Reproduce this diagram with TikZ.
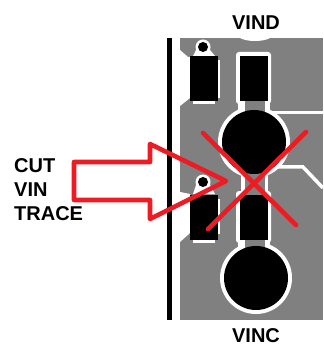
\documentclass[tikz,border=0pt]{standalone}
\usepackage{xcolor}
\usepackage{fontspec}
\setmainfont{Liberation Sans}
\definecolor{boardgray}{RGB}{128,128,128}
\definecolor{cutred}{RGB}{237,28,36}

\begin{document}
\begin{tikzpicture}[
    x=1pt, y=-1pt,
    pad/.style={fill=black, inner sep=0pt, minimum width=28pt, minimum height=45pt},
    padring/.style={fill=white, rounded corners=3pt, inner sep=0pt, minimum width=35pt, minimum height=52pt},
    hole/.style={circle, fill=black, inner sep=0pt, minimum size=64pt},
    holering/.style={circle, fill=white, inner sep=0pt, minimum size=72pt},
    via/.style={circle, fill=black, inner sep=0pt, minimum size=10pt},
    viaring/.style={circle, fill=white, inner sep=0pt, minimum size=15pt},
    trace/.style={draw=white, line width=3.5pt},
    cut/.style={draw=cutred, line width=4.6pt, line cap=round, line join=round},
    label/.style={font=\bfseries\fontsize{20}{24}\selectfont, inner sep=0pt}
]
\useasboundingbox (0,0) rectangle (323,344);

\fill[boardgray] (180,38) rectangle (323,320);
\fill[black] (167,38) rectangle (172,320);

\fill[white] (180,50) -- (188,57) -- (190,57) -- (190,98) -- (180,106) -- cycle;
\fill[white] (180,192) -- (190,194) -- (190,233) -- (180,242) -- cycle;
\fill[white] (240,38) .. controls (247,42) and (263,42) .. (270,38) -- cycle;

\node[viaring] (via1ring) at (203,47) {};
\node[viaring] (via2ring) at (203,182) {};
\fill[white] (196,50) -- (193,56) -- (215,56) -- (210,50) -- cycle;
\fill[white] (196,185) -- (193,194) -- (215,194) -- (210,185) -- cycle;
\fill[white] (217,60) rectangle (220,98);
\fill[white] (217,199) rectangle (220,234);
\fill[white] (193,100) rectangle (215,104);
\fill[white] (193,238) rectangle (215,243);

\draw[trace] (270,112.5) -- (323,112.5);
\draw[trace] (270,172) -- (275,167) -- (303,167) -- (323,188);

\node[padring] (pad2ring) at (253.5,78) {};
\node[padring] (pad4ring) at (253.5,217) {};
\fill[white] (238,100) rectangle (270,116);
\fill[white] (241,165) rectangle (268,195);
\fill[white] (238,238) rectangle (270,252);
\node[holering] (hole1ring) at (254,142) {};
\node[holering] (hole2ring) at (256,278) {};
\fill[boardgray] (245,100) rectangle (265,116);
\fill[boardgray] (245,170) rectangle (265,195);
\fill[boardgray] (245,239) rectangle (265,252);

\node[pad] (pad1) at (204,78.5) {};
\node[pad] (pad2) at (254,78.5) {};
\node[pad] (pad3) at (204,217) {};
\node[pad] (pad4) at (254,217) {};
\node[hole] (hole1) at (254,142) {};
\node[hole] (hole2) at (256,278) {};
\node[via] (via1) at (203,47) {};
\node[via] (via2) at (203,182) {};

\draw[cut] (74,162) -- (150,162) -- (150,144) -- (226,181) -- (150,219) -- (150,200) -- (74,200) -- cycle;
\draw[cut] (203,133) -- (296,225);
\draw[cut] (306,132) -- (208,229);

\node[label] (vind) at (256,23) {VIND};
\node[label] (vinc) at (256,335.5) {VINC};
\node[label, anchor=west, align=left] (cutlabel) at (14,190) {CUT\\VIN\\TRACE};

\end{tikzpicture}
\end{document}
